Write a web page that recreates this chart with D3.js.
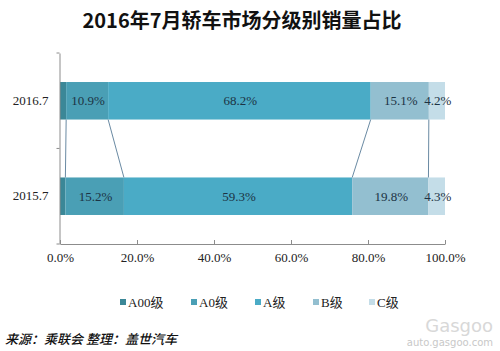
<!DOCTYPE html>
<html>
<head>
<meta charset="utf-8">
<script src="https://cdn.jsdelivr.net/npm/d3@7"></script>
<style>
  body { margin: 0; background: #fff; }
  svg { display: block; }
</style>
</head>
<body>
<svg></svg>
<script>
const width = 500
const height = 351

const categories = ['2016.7', '2015.7']
const series = ['A00级', 'A0级', 'A级', 'B级', 'C级']
const values2016 = [1.6, 10.9, 68.2, 15.1, 4.2]
const values2015 = [1.4, 15.2, 59.3, 19.8, 4.3]
const xTicks = [0, 20, 40, 60, 80, 100]
const colors = ['#3b8797', '#4a9fb5', '#4aabc6', '#93bfd0', '#c4dde8']

const rows = [values2016, values2015]

let svg = d3.select('svg').attr('width', width).attr('height', height)

let xScale = d3.scaleLinear().domain([0, 100]).range([60, 445])
let yScale = d3.scaleBand()
    .domain(categories)
    .range([53, 244])
    .paddingInner(0.607)
    .paddingOuter(0.304)

// title
svg.append('text')
    .attr('x', 242)
    .attr('y', 28)
    .attr('text-anchor', 'middle')
    .attr('font-family', 'Noto Sans CJK SC')
    .attr('font-weight', 'bold')
    .attr('font-size', 20)
    .attr('fill', '#111')
    .text('2016年7月轿车市场分级别销量占比')

// stacked segments
let stacked = rows.map((vals, r) => {
    let acc = 0
    return vals.map((v, i) => {
        let seg = { cat: categories[r], i: i, v: v, x0: acc, x1: acc + v }
        acc += v
        return seg
    })
})

let barG = svg.append('g')
stacked.forEach(segs => {
    barG.selectAll(null)
        .data(segs)
        .enter()
        .append('rect')
        .attr('x', d => xScale(d.x0))
        .attr('y', d => yScale(d.cat))
        .attr('width', d => xScale(d.x1) - xScale(d.x0))
        .attr('height', yScale.bandwidth())
        .attr('fill', d => colors[d.i])

    barG.selectAll(null)
        .data(segs.filter(d => d.i > 0))
        .enter()
        .append('text')
        .attr('x', d => (xScale(d.x0) + xScale(d.x1)) / 2 + 1)
        .attr('y', d => yScale(d.cat) + yScale.bandwidth() / 2 + 4.5)
        .attr('text-anchor', 'middle')
        .attr('font-family', 'Liberation Serif')
        .attr('font-size', 13)
        .attr('fill', '#1c3344')
        .text(d => d.v.toFixed(1) + '%')
})

// connector lines between the two bars
let links = stacked[0].slice(0, 4).map((d, i) => ({ a: d.x1, b: stacked[1][i].x1 }))
svg.append('g').selectAll('line')
    .data(links)
    .enter()
    .append('line')
    .attr('x1', d => xScale(d.a))
    .attr('y1', yScale(categories[0]) + yScale.bandwidth())
    .attr('x2', d => xScale(d.b))
    .attr('y2', yScale(categories[1]))
    .attr('stroke', '#6a8aa3')
    .attr('stroke-width', 1)

// x axis
let xAxis = d3.axisBottom(xScale)
    .tickValues(xTicks)
    .tickSize(0)
    .tickPadding(9)
    .tickFormat(d => d.toFixed(1) + '%')

let xg = svg.append('g')
    .attr('transform', 'translate(0,244)')
    .call(xAxis)
xg.select('.domain').attr('stroke', '#8c8c8c')
xg.selectAll('.tick').append('line')
    .attr('y1', -4).attr('y2', 0)
    .attr('stroke', '#8c8c8c')
xg.selectAll('.tick text')
    .attr('font-family', 'Liberation Serif')
    .attr('font-size', 13)
    .attr('fill', '#222')

// y axis
let yAxis = d3.axisLeft(yScale).tickSize(0).tickPadding(11)
let yg = svg.append('g')
    .attr('transform', 'translate(59.5,0)')
    .call(yAxis)
yg.select('.domain').attr('stroke', '#8c8c8c')
yg.selectAll('.tick text')
    .attr('font-family', 'Liberation Serif')
    .attr('font-size', 13)
    .attr('fill', '#222')
let step = yScale.step()
let bounds = [53, 53 + step, 244]
yg.selectAll('.bound')
    .data(bounds)
    .enter()
    .append('line')
    .attr('x1', -3).attr('x2', 0)
    .attr('y1', d => d).attr('y2', d => d)
    .attr('stroke', '#8c8c8c')

// legend
const legendX = [120, 191, 255, 313, 369]
let lg = svg.append('g').selectAll('g')
    .data(series)
    .enter()
    .append('g')
    .attr('transform', (d, i) => 'translate(' + legendX[i] + ',303)')
lg.append('rect')
    .attr('x', 0).attr('y', -4)
    .attr('width', 6).attr('height', 6)
    .attr('fill', (d, i) => colors[i])
lg.append('text')
    .attr('x', 8).attr('y', 4)
    .attr('font-family', 'Liberation Serif, Noto Sans CJK SC')
    .attr('font-size', 13)
    .attr('fill', '#222')
    .text(d => d)

// source
svg.append('text')
    .attr('x', 5)
    .attr('y', 344)
    .attr('font-family', 'Noto Sans CJK SC')
    .attr('font-style', 'italic')
    .attr('font-weight', 500)
    .attr('font-size', 13)
    .attr('fill', '#111')
    .text('来源：乘联会  整理：盖世汽车')

// watermark
svg.append('text')
    .attr('x', 493).attr('y', 332)
    .attr('text-anchor', 'end')
    .attr('font-family', 'DejaVu Sans')
    .attr('font-size', 18)
    .attr('fill', '#d8d8d8')
    .text('Gasgoo')
svg.append('text')
    .attr('x', 493).attr('y', 346)
    .attr('text-anchor', 'end')
    .attr('font-family', 'DejaVu Sans')
    .attr('font-size', 10)
    .attr('fill', '#c8c8c8')
    .text('auto.gasgoo.com')
</script>
</body>
</html>
